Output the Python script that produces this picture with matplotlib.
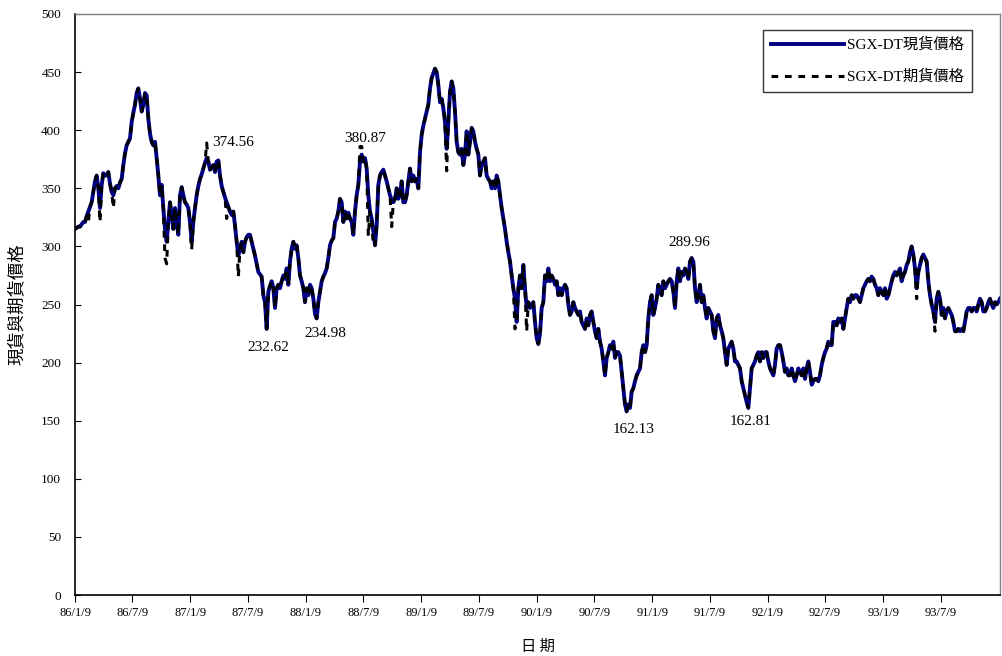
import matplotlib
matplotlib.use("Agg")
import matplotlib.pyplot as plt
import pandas as pd

plt.rcParams['font.family'] = ['Liberation Serif', 'Noto Sans CJK TC']

# Spot index values (SGX-DT) at equal time steps
spot = [
    # 86/1 - 87/5
    315, 316, 317, 317, 319, 321, 321, 326, 330, 334, 338, 347, 356, 361, 350, 333, 353, 363, 361, 361,
    364, 354, 347, 344, 350, 352, 350, 355, 358, 370, 380, 387, 390, 393, 407, 415, 422, 432, 436, 427,
    416, 422, 432, 430, 410, 397, 390, 387, 390, 376, 361, 344, 353, 333, 315, 304, 321, 338, 327, 315,
    333, 321, 310, 344, 351, 344, 338, 336, 333, 321, 304, 321, 333, 344, 352, 358, 362, 367, 372, 376,
    373, 366, 368, 370, 364, 373, 374, 361, 352, 347, 342, 338, 334,
    # 87/5 - 88/10
    330, 327, 330, 318, 304, 292, 298, 304, 295, 304, 308, 310, 310, 304, 298, 292, 285, 278, 276, 274,
    258, 252, 229, 261, 266, 270, 264, 247, 264, 267, 264, 270, 275, 272, 281, 267, 287, 298, 304, 298,
    301, 290, 275, 270, 264, 252, 264, 258, 267, 264, 255, 242, 238, 252, 261, 270, 274, 277, 281, 290,
    301, 305, 307, 321, 324, 330, 341, 338, 321, 330, 324, 329, 324, 321, 310, 330, 344, 353, 373, 379,
    373, 376, 367, 344, 330, 324, 313, 301, 318, 353, 361, 364,
    # 88/10 - 90/1
    366, 361, 356, 350, 344, 340, 338, 341, 350, 341, 344, 356, 338, 338, 344, 356, 367, 356, 361, 356,
    358, 350, 381, 396, 404, 410, 416, 422, 436, 445, 449, 453, 450, 439, 424, 427, 419, 407, 384, 407,
    433, 442, 436, 416, 390, 381, 379, 384, 370, 379, 399, 379, 390, 402, 399, 390, 384, 379, 361, 370,
    373, 376, 361, 358, 356, 350, 356, 350, 361, 356, 344, 333, 324, 315, 304, 295, 287, 275, 264, 255,
    235, 264, 275, 264, 284, 264, 247, 252, 247, 250, 252, 235, 221,
    # 90/1 - 91/6
    216, 225, 247, 252, 275, 270, 281, 270, 275, 272, 267, 270, 258, 264, 258, 264, 267, 264, 250, 241,
    244, 252, 247, 244, 241, 244, 235, 232, 229, 238, 232, 241, 244, 235, 227, 221, 229, 218, 212, 201,
    189, 204, 209, 215, 212, 218, 204, 209, 209, 206, 192, 178, 164, 158, 164, 161, 175, 178, 184, 189,
    192, 195, 209, 215, 209, 215, 238, 252, 258, 241, 247, 255, 267, 261, 258, 270, 264, 267, 270, 272,
    270, 261, 247, 270, 281, 270, 278, 275, 281, 278, 272, 287, 290,
    # 91/6 - 92/12
    287, 264, 252, 258, 267, 252, 258, 247, 238, 247, 244, 241, 227, 221, 238, 241, 232, 227, 221, 209,
    198, 212, 215, 218, 212, 201, 201, 198, 195, 184, 178, 172, 166, 161, 178, 195, 198, 201, 206, 209,
    201, 209, 204, 209, 209, 201, 195, 192, 189, 198, 212, 215, 215, 209, 201, 192, 195, 189, 189, 195,
    189, 184, 189, 195, 192, 189, 195, 186, 195, 201, 192, 181, 184, 186, 186, 184, 189, 198, 204, 209,
    212, 218, 215, 215, 235, 235, 232, 238, 235, 238, 229, 238, 247,
    # 92/12 - 94/1
    255, 252, 258, 255, 258, 258, 255, 252, 258, 264, 267, 270, 272, 270, 274, 272, 267, 264, 258, 264,
    261, 258, 264, 255, 258, 264, 270, 275, 278, 275, 278, 281, 270, 275, 278, 284, 287, 295, 300, 293,
    281, 264, 278, 284, 290, 293, 290, 287, 270, 258, 250, 244, 235, 255, 261, 255, 241, 247, 238, 244,
    247, 244, 241, 235, 227, 227, 229, 227, 229, 227, 235, 244, 247, 247, 244, 247, 247, 244, 250, 255,
    252, 244, 244, 247, 252, 255, 250, 247, 252, 250, 252, 255,
]

# Futures prices: follow the spot closely; samples where the futures visibly differ
futures_diff = {8: 321, 15: 321, 23: 333, 54: 290, 55: 285, 70: 297, 79: 389, 91: 324,
                98: 274, 171: 386, 172: 386, 176: 309, 179: 300,
                190: 317, 223: 365, 264: 229, 271: 227,
                505: 255, 516: 227}
futures = list(spot)
for i, v in futures_diff.items():
    futures[i] = v

start_date = '1997-01-09'
end_date = '2005-01-12'
dates = pd.date_range(start_date, end_date, periods=len(spot))

tick_dates = ['1997-01-09', '1997-07-09', '1998-01-09', '1998-07-09', '1999-01-09', '1999-07-09',
              '2000-01-09', '2000-07-09', '2001-01-09', '2001-07-09', '2002-01-09', '2002-07-09',
              '2003-01-09', '2003-07-09', '2004-01-09', '2004-07-09']
tick_labels = ['86/1/9', '86/7/9', '87/1/9', '87/7/9', '88/1/9', '88/7/9', '89/1/9', '89/7/9',
               '90/1/9', '90/7/9', '91/1/9', '91/7/9', '92/1/9', '92/7/9', '93/1/9', '93/7/9']

# Value labels (text, date, value at which the text sits)
notes = [('374.56', '1998-05-24', 389), ('380.87', '1999-07-16', 393),
         ('232.62', '1998-09-12', 213), ('234.98', '1999-03-11', 225),
         ('162.13', '2001-11-11', 142), ('289.96', '2002-05-06', 303),
         ('162.81', '2002-11-15', 149)]

fig = plt.figure(figsize=(10.03, 6.56), dpi=100)
ax = fig.add_axes([75 / 1003, 61 / 656, 925 / 1003, 581 / 656])

ax.plot(dates, spot, color='#000080', lw=2.8, solid_joinstyle='round', label='SGX-DT現貨價格', zorder=2)
ax.plot(dates, futures, color='black', lw=2.2, linestyle=(0, (2.2, 2.2)), label='SGX-DT期貨價格', zorder=3)

for txt, d, v in notes:
    ax.text(pd.Timestamp(d), v, txt, fontsize=11, ha='center', va='center',
            family=['Liberation Serif'])

ax.set_xlim(dates[0], dates[-1])
ax.set_ylim(0, 500)
ax.set_yticks(range(0, 501, 50))
ax.set_xticks(pd.to_datetime(tick_dates))
ax.set_xticklabels(tick_labels)
ax.tick_params(axis='x', direction='out', length=5, labelsize=9, pad=4)
ax.tick_params(axis='y', direction='in', length=4, labelsize=9.5, pad=10)
for lbl in ax.get_xticklabels():
    lbl.set_fontstretch('condensed')

for s in ['left', 'bottom']:
    ax.spines[s].set_color('black')
    ax.spines[s].set_linewidth(1.2)
for s in ['top', 'right']:
    ax.spines[s].set_color('#808080')
    ax.spines[s].set_linewidth(1.0)

ax.set_ylabel('現貨與期貨價格', fontsize=12.5, labelpad=11, family=['Noto Sans CJK TC'])
ax.set_xlabel('日 期', fontsize=11, labelpad=13, family=['Noto Sans CJK TC'])

leg = ax.legend(loc='upper right', fontsize=11, frameon=True, fancybox=False, edgecolor='black',
                handlelength=4.8, handletextpad=0.2, borderpad=0.5, labelspacing=1.15,
                borderaxespad=0)
leg.set_bbox_to_anchor((972 / 1003, 626 / 656), transform=fig.transFigure)
leg.get_frame().set_linewidth(1.0)

fig.savefig('out.png', dpi=100)
